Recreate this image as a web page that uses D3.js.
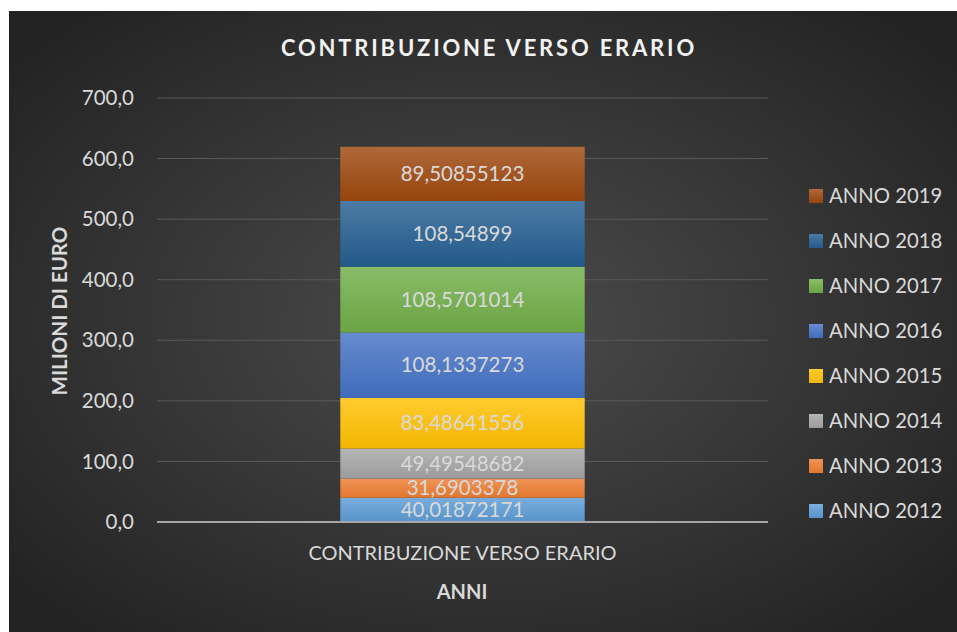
<!DOCTYPE html>
<html>
<head>
<meta charset="utf-8">
<script src="https://cdn.jsdelivr.net/npm/d3@7"></script>
<style>
  html, body { margin: 0; padding: 0; background: #fff; }
  svg { display: block; font-family: Lato, "Open Sans", sans-serif; }
</style>
</head>
<body>
<svg class="graph" width="957" height="632"></svg>
<script>
// data
const category = "CONTRIBUZIONE VERSO ERARIO";
const years = ["ANNO 2012", "ANNO 2013", "ANNO 2014", "ANNO 2015", "ANNO 2016", "ANNO 2017", "ANNO 2018", "ANNO 2019"];
const values = [40.01872171, 31.6903378, 49.49548682, 83.48641556, 108.1337273, 108.5701014, 108.54899, 89.50855123];
const labels = ["40,01872171", "31,6903378", "49,49548682", "83,48641556", "108,1337273", "108,5701014", "108,54899", "89,50855123"];
const yTicks = [0, 100, 200, 300, 400, 500, 600, 700];
const colors = ["#5b9bd5", "#ed7d31", "#a5a5a5", "#ffc000", "#4472c4", "#70ad47", "#255e91", "#9e480e"];

const W = 957, H = 632;
const svg = d3.select('svg.graph');
const defs = svg.append('defs');

// dark background, lighter in the middle
const bg = defs.append('radialGradient').attr('id', 'bg')
    .attr('cx', '50%').attr('cy', '50%').attr('r', '65%');
bg.append('stop').attr('offset', '0%').attr('stop-color', '#4c4c4c');
bg.append('stop').attr('offset', '100%').attr('stop-color', '#232323');

svg.append('rect')
    .attr('x', 9).attr('y', 11)
    .attr('width', W - 9).attr('height', H - 11)
    .attr('fill', 'url(#bg)');

// bar gradients: lighter top, full colour at bottom
colors.forEach((c, i) => {
    const g = defs.append('linearGradient').attr('id', `seg${i}`)
        .attr('x1', 0).attr('y1', 0).attr('x2', 0).attr('y2', 1);
    g.append('stop').attr('offset', '0%').attr('stop-color', d3.interpolateRgb(c, '#fff')(0.18));
    g.append('stop').attr('offset', '100%').attr('stop-color', d3.color(c).darker(0.15));
});

// scales
const y = d3.scaleLinear().domain([0, 700]).range([522, 98]);
const x = d3.scaleBand().domain([category]).range([157, 768]).paddingInner(0.6).paddingOuter(0.3);

// gridlines
svg.append('g').selectAll('line').data(yTicks.filter(t => t > 0)).join('line')
    .attr('x1', 157).attr('x2', 768)
    .attr('y1', d => y(d)).attr('y2', d => y(d))
    .attr('stroke', '#5a5a5a').attr('stroke-width', 1);

// y tick labels
svg.append('g').selectAll('text').data(yTicks).join('text')
    .attr('x', 134).attr('y', d => y(d))
    .attr('dy', '0.35em')
    .attr('text-anchor', 'end')
    .attr('font-size', 20.5)
    .attr('fill', '#d9d9d9')
    .text(d => d3.format('.1f')(d).replace('.', ','));

// stacked segments
const stack = [];
let acc = 0;
values.forEach((v, i) => { stack.push({ i, y0: acc, y1: acc + v, label: labels[i] }); acc += v; });

const bx = x(category), bw = x.bandwidth();

svg.append('g').selectAll('rect').data(stack).join('rect')
    .attr('x', bx).attr('width', bw)
    .attr('y', d => y(d.y1))
    .attr('height', d => y(d.y0) - y(d.y1))
    .attr('fill', d => `url(#seg${d.i})`);

svg.append('g').selectAll('text').data(stack).join('text')
    .attr('x', bx + bw / 2)
    .attr('y', d => (y(d.y0) + y(d.y1)) / 2)
    .attr('dy', '0.35em')
    .attr('text-anchor', 'middle')
    .attr('font-size', 20.5)
    .attr('fill', '#d9d9d9')
    .text(d => d.label);

// zero axis line
svg.append('line')
    .attr('x1', 157).attr('x2', 768)
    .attr('y1', y(0)).attr('y2', y(0))
    .attr('stroke', '#a6a6a6').attr('stroke-width', 2);

// category label
svg.append('text')
    .attr('x', bx + bw / 2).attr('y', 553)
    .attr('dy', '0.35em')
    .attr('text-anchor', 'middle')
    .attr('font-size', 20)
    .attr('fill', '#d9d9d9')
    .text(category);

// titles
svg.append('text')
    .attr('x', 489).attr('y', 48)
    .attr('dy', '0.35em')
    .attr('text-anchor', 'middle')
    .attr('font-size', 22).attr('font-weight', 'bold')
    .attr('letter-spacing', 2.8)
    .attr('fill', '#f2f2f2')
    .text('CONTRIBUZIONE VERSO ERARIO');

svg.append('text')
    .attr('x', 462).attr('y', 592)
    .attr('dy', '0.35em')
    .attr('text-anchor', 'middle')
    .attr('font-size', 20).attr('font-weight', 'bold')
    .attr('fill', '#d9d9d9')
    .text('ANNI');

svg.append('text')
    .attr('transform', 'translate(60,311) rotate(-90)')
    .attr('dy', '0.35em')
    .attr('text-anchor', 'middle')
    .attr('font-size', 20.5).attr('font-weight', 'bold')
    .attr('fill', '#d9d9d9')
    .text('MILIONI DI EURO');

// legend, newest on top
const legendRows = d3.range(years.length).reverse();
const lg = svg.append('g').selectAll('g').data(legendRows).join('g')
    .attr('transform', (d, k) => `translate(809, ${196 + k * 45})`);

lg.append('rect')
    .attr('x', 0).attr('y', -7).attr('width', 14).attr('height', 14)
    .attr('fill', d => `url(#seg${d})`);

lg.append('text')
    .attr('x', 20).attr('dy', '0.35em')
    .attr('font-size', 20.3)
    .attr('fill', '#d9d9d9')
    .text(d => years[d]);
</script>
</body>
</html>
